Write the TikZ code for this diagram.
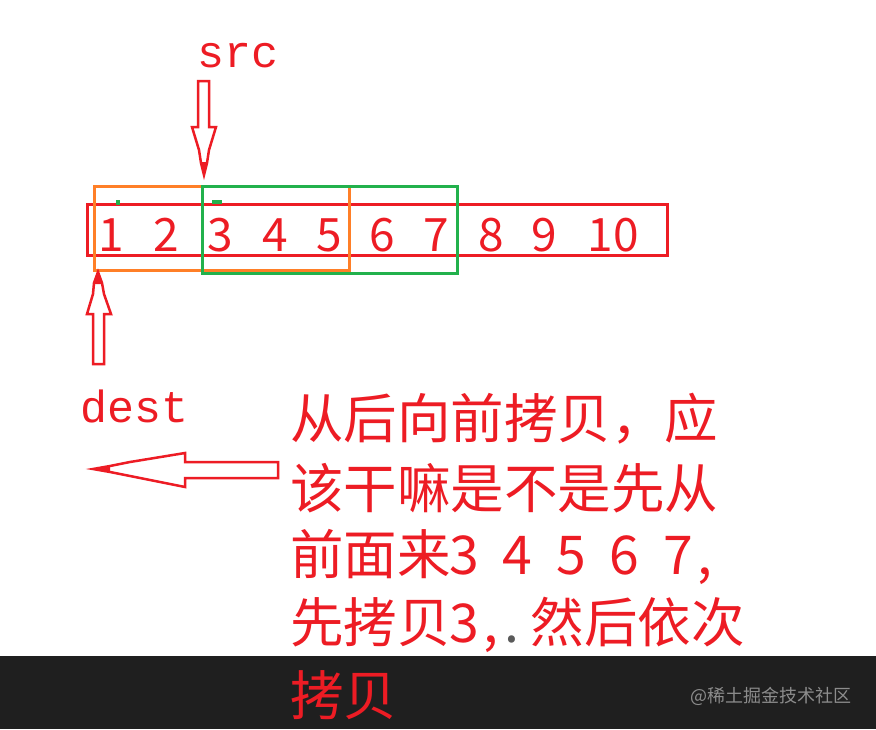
\documentclass[tikz,border=0pt]{standalone}
\usepackage{fontspec}
\newfontfamily\cjk{Noto Sans CJK SC}
\newfontfamily\codefont{Liberation Mono}
\newcommand{\halfcell}[1]{\makebox[0.5em]{#1}}

\begin{document}
\begin{tikzpicture}[x=1pt,y=-1pt]
  % Define paint colors
  \definecolor{paintred}{RGB}{237,28,36}
  \definecolor{paintorange}{RGB}{255,127,39}
  \definecolor{paintgreen}{RGB}{34,177,76}
  \definecolor{darkbar}{RGB}{31,31,31}
  \definecolor{dotgray}{RGB}{90,90,90}
  \definecolor{markgray}{RGB}{140,140,140}

  \tikzset{
    box/.style={line width=3pt},
    hollow/.style={draw=paintred, line width=2.5pt, line join=miter, fill=white},
    digit/.style={font=\cjk\fontsize{46}{50}\selectfont, text=paintred, anchor=base, inner sep=0pt},
    label/.style={font=\codefont\fontsize{45}{50}\selectfont, text=paintred, anchor=base, inner sep=0pt},
    note/.style={font=\cjk\fontsize{53.5}{60}\selectfont, text=paintred, anchor=west, inner sep=0pt}
  }

  \useasboundingbox (0,0) rectangle (876,729);
  \fill[white] (0,0) rectangle (876,656);
  \fill[darkbar] (0,656) rectangle (876,729);

  % Array of numbers
  \draw[box, draw=paintred] (87,204) rectangle (667,255);
  \foreach \x/\d in {111/1,166/2,220/3,275/4,329/5,382/6,436/7,491/8,544/9,613/10} {
    \node[digit] (n\d) at (\x,251) {\d};
  }

  % dest and src windows
  \draw[box, draw=paintorange] (94,186) rectangle (349,270);
  \draw[box, draw=paintgreen] (202,186) rectangle (457,273);
  \fill[paintgreen] (116,200) rectangle (120,205);
  \fill[paintgreen] (212,200) rectangle (222,204);

  % src arrow, pointing down
  \node[label] (src) at (238,67) {src};
  \begin{scope}[shift={(204,175)}]
    \draw[hollow] (0,0) -- (3,-12) -- (5,-25) -- (12,-48) -- (5,-48) -- (5,-94)
      -- (-6,-94) -- (-6,-48) -- (-12,-48) -- (-5,-25) -- (-3,-12) -- cycle;
    \fill[paintred] (0,1) -- (3,-13) -- (-3,-13) -- cycle;
  \end{scope}

  % dest arrow, pointing up
  \node[label] (dest) at (135,422) {dest};
  \begin{scope}[shift={(98,272)}]
    \draw[hollow] (0,0) -- (4,11) -- (6,22) -- (13,42) -- (6,42) -- (6,92)
      -- (-5,92) -- (-5,42) -- (-11,42) -- (-5,22) -- (-4,11) -- cycle;
    \fill[paintred] (0,-1) -- (4,12) -- (-4,12) -- cycle;
  \end{scope}

  % arrow pointing left
  \begin{scope}[shift={(93,469)}]
    \draw[hollow] (0,0) -- (17,-3) -- (37,-7) -- (92,-16) -- (92,-7) -- (185,-7)
      -- (185,9) -- (92,9) -- (92,18) -- (37,7) -- (17,3) -- cycle;
    \fill[paintred] (-1,0) -- (17,-3) -- (17,3) -- cycle;
  \end{scope}

  % Question text
  \node[note] (line1) at (290,418.5) {从后向前拷贝，应};
  \node[note] (line2) at (290,488.5) {该干嘛是不是先从};
  \node[note] (line3) at (290,556.5) {前面来\halfcell{3}\halfcell{}\halfcell{4}\halfcell{}\halfcell{5}\halfcell{}\halfcell{6}\halfcell{}\halfcell{7}\halfcell{,}};
  \node[note] (line4) at (290,625) {先拷贝\halfcell{3}\halfcell{,}\makebox[0.5em][l]{\color{dotgray}.}然后依次};
  \node[note] (line5) at (290,695.5) {拷贝};

  % watermark
  \node[font=\cjk\fontsize{18}{20}\selectfont, text=markgray, anchor=east, inner sep=0pt] (wm) at (852,696) {@稀土掘金技术社区};
\end{tikzpicture}
\end{document}
